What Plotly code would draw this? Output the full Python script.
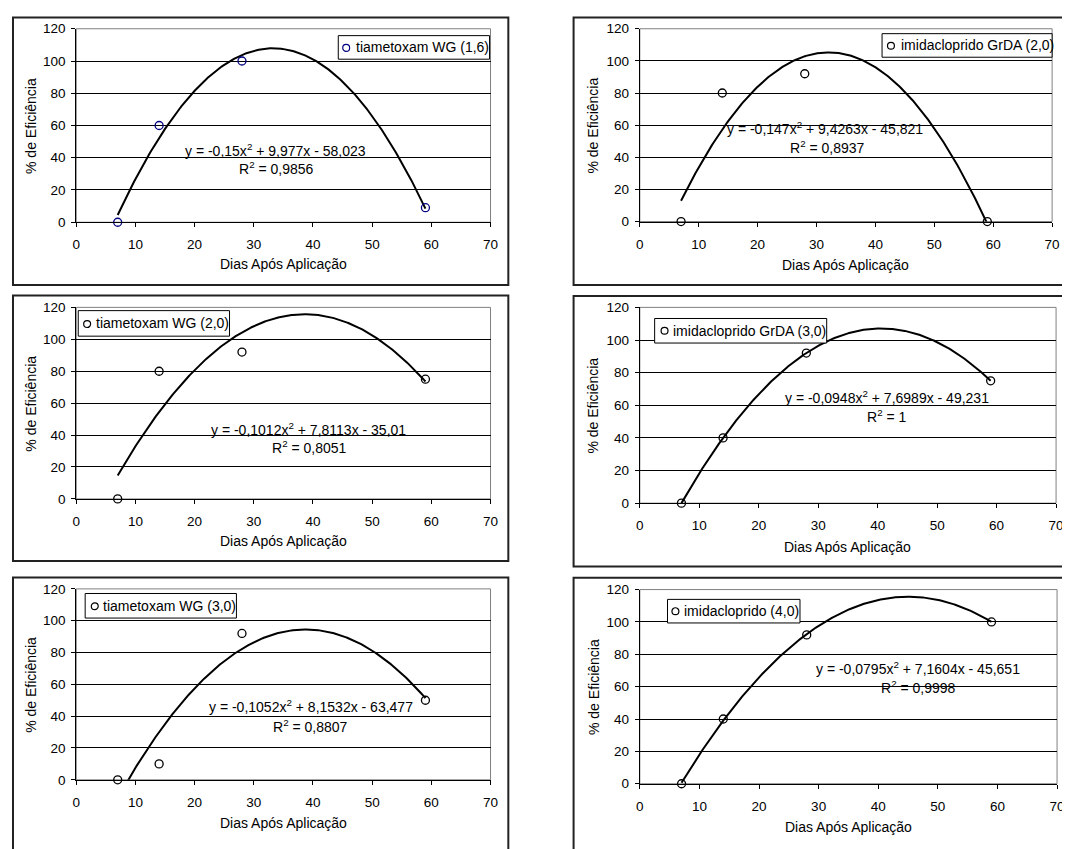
import numpy as np
import plotly.graph_objects as go

# The page body keeps its default 8px margin, so the figure is drawn 8px
# right/down of the window corner; the figure is sized to fill the rest.
PAGE_W, PAGE_H = 1070, 849
OFF = 8
W, H = PAGE_W - OFF, PAGE_H - OFF
FONT = "Liberation Sans, Arial, sans-serif"

# ---------------- data ----------------
days = [7, 14, 28, 59]
tiametoxam_wg_16 = [0, 60, 100, 9]
imidacloprido_grda_20 = [0, 80, 92, 0]
tiametoxam_wg_20 = [0, 80, 92, 75]
imidacloprido_grda_30 = [0, 40, 92, 75]
tiametoxam_wg_30 = [0, 10, 92, 50]
imidacloprido_40 = [0, 40, 92, 100]

series_names = ["tiametoxam WG (1,6)", "imidacloprido GrDA (2,0)",
                "tiametoxam WG (2,0)", "imidacloprido GrDA (3,0)",
                "tiametoxam WG (3,0)", "imidacloprido (4,0)"]
series_values = [tiametoxam_wg_16, imidacloprido_grda_20, tiametoxam_wg_20,
                 imidacloprido_grda_30, tiametoxam_wg_30, imidacloprido_40]

# polynomial trendline coefficients printed on the chart: y = a x^2 + b x + c
trend_a = [-0.15, -0.147, -0.1012, -0.0948, -0.1052, -0.0795]
trend_b = [9.977, 9.4263, 7.8113, 7.6989, 8.1532, 7.1604]
trend_c = [-58.023, -45.821, -35.01, -49.231, -63.477, -45.651]
equation_labels = ["y = -0,15x<sup>2</sup> + 9,977x - 58,023",
                   "y = -0,147x<sup>2</sup> + 9,4263x - 45,821",
                   "y = -0,1012x<sup>2</sup> + 7,8113x - 35,01",
                   "y = -0,0948x<sup>2</sup> + 7,6989x - 49,231",
                   "y = -0,1052x<sup>2</sup> + 8,1532x - 63,477",
                   "y = -0,0795x<sup>2</sup> + 7,1604x - 45,651"]
r2_labels = ["R<sup>2</sup> = 0,9856", "R<sup>2</sup> = 0,8937",
             "R<sup>2</sup> = 0,8051", "R<sup>2</sup> = 1",
             "R<sup>2</sup> = 0,8807", "R<sup>2</sup> = 0,9998"]

x_ticks = [0, 10, 20, 30, 40, 50, 60, 70]
y_ticks = [0, 20, 40, 60, 80, 100, 120]
x_title = "Dias Após Aplicação"
y_title = "% de Eficiência"

# ---------------- layout geometry (page pixels) ----------------
plot_px = [(73, 492, 22, 219), (643, 1060, 22, 218.3),
           (73, 492, 305.7, 500.7), (643, 1064, 305.7, 505),
           (73, 492, 592.3, 786.7), (643, 1065, 593, 790.7)]
frame_px = [(9, 510, 10.5, 283), (576, 1080, 10.5, 283),
            (9, 510, 293.5, 564), (576, 1080, 294, 569.5),
            (9, 510, 580.7, 860), (576, 1080, 581, 860)]
legend_px = [(338, 491, 29, 53), (888, 1060, 27, 51),
             (75, 228, 309, 335), (658, 832, 317, 342),
             (82, 235, 597, 622), (671, 805, 603, 627)]
legend_marker_px = [(346, 41.5), (897, 39.3), (84, 322.7),
                    (668, 329.5), (91.7, 610), (679, 615)]
legend_text_px = [354, 905, 91, 675, 98.5, 685.5]
eq_pos = [(33.7, 45.1), (31.4, 58.4), (39.3, 43.5), (41.6, 65), (39.6, 46.1), (46.6, 71.4)]
r2_pos = [(33.9, 33.5), (31.8, 46.2), (39.4, 32.4), (41.6, 53.6), (39.6, 33.8), (46.8, 59.9)]
ytitle_x_px = [27.7, 596, 27.7, 596, 27.7, 596]
xtitle_y_px = [262, 262.3, 543.3, 549.3, 830.7, 835]
marker_colors = ["#000080", "black", "black", "black", "black", "black"]


def fx(px):
    return (px - OFF) / W


def fy(py):
    return 1 - (py - OFF) / H


fig = go.Figure()
shapes = []
annotations = []
txt_font = dict(family=FONT, size=14, color="black")

for i in range(6):
    n = i + 1
    xa = "x" if n == 1 else f"x{n}"
    ya = "y" if n == 1 else f"y{n}"
    l, r, t, b = plot_px[i]

    xs = np.linspace(days[0], days[-1], 300)
    ys = trend_a[i] * xs ** 2 + trend_b[i] * xs + trend_c[i]
    fig.add_trace(go.Scatter(x=xs, y=ys, mode="lines", xaxis=xa, yaxis=ya,
                             line=dict(color="black", width=2),
                             showlegend=False, hoverinfo="skip"))
    fig.add_trace(go.Scatter(x=days, y=series_values[i], mode="markers",
                             name=series_names[i], xaxis=xa, yaxis=ya,
                             marker=dict(symbol="circle-open", size=8,
                                         color=marker_colors[i],
                                         line=dict(width=1.3, color=marker_colors[i])),
                             cliponaxis=False, showlegend=False))

    axis_common = dict(ticks="outside", ticklen=4, tickcolor="black", tickwidth=1,
                       showline=True, linecolor="black", linewidth=1,
                       zeroline=False, tickfont=dict(family=FONT, size=13.5, color="black"))
    fig.update_layout(**{
        ("xaxis" if n == 1 else f"xaxis{n}"): dict(
            domain=[fx(l), fx(r)], anchor=ya, range=[0, 70],
            tickmode="array", tickvals=x_ticks, showgrid=False,
            ticklabelstandoff=6, **axis_common),
        ("yaxis" if n == 1 else f"yaxis{n}"): dict(
            domain=[fy(b), fy(t)], anchor=xa, range=[0, 120],
            tickmode="array", tickvals=y_ticks, showgrid=True,
            gridcolor="black", gridwidth=1, ticklabelstandoff=3, **axis_common),
    })

    shapes.append(dict(type="rect", xref="paper", yref="paper", layer="below",
                       x0=fx(l), x1=fx(r), y0=fy(b), y1=fy(t),
                       line=dict(color="#808080", width=1), fillcolor="rgba(0,0,0,0)"))
    fl, fr, ft, fb = frame_px[i]
    shapes.append(dict(type="rect", xref="paper", yref="paper", layer="above",
                       x0=fx(fl), x1=fx(fr), y0=fy(fb), y1=fy(ft),
                       line=dict(color="#222222", width=2), fillcolor="rgba(0,0,0,0)"))
    ll, lr, lt, lb = legend_px[i]
    shapes.append(dict(type="rect", xref="paper", yref="paper", layer="above",
                       x0=fx(ll), x1=fx(lr), y0=fy(lb), y1=fy(lt),
                       line=dict(color="black", width=1), fillcolor="white"))
    mx, my = legend_marker_px[i]
    shapes.append(dict(type="circle", xref="paper", yref="paper", layer="above",
                       x0=fx(mx - 3.5), x1=fx(mx + 3.5), y0=fy(my + 3.5), y1=fy(my - 3.5),
                       line=dict(color=marker_colors[i], width=1.2), fillcolor="white"))
    annotations.append(dict(xref="paper", yref="paper", x=fx(legend_text_px[i]),
                            y=fy((lt + lb) / 2), xanchor="left", yanchor="middle",
                            text=series_names[i], showarrow=False, font=txt_font))

    annotations.append(dict(xref=xa, yref=ya, x=eq_pos[i][0], y=eq_pos[i][1],
                            text=equation_labels[i], showarrow=False,
                            xanchor="center", yanchor="middle", font=txt_font))
    annotations.append(dict(xref=xa, yref=ya, x=r2_pos[i][0], y=r2_pos[i][1],
                            text=r2_labels[i], showarrow=False,
                            xanchor="center", yanchor="middle", font=txt_font))

    annotations.append(dict(xref="paper", yref="paper", x=fx((l + r) / 2),
                            y=fy(xtitle_y_px[i]), xanchor="center", yanchor="middle",
                            text=x_title, showarrow=False, font=txt_font))
    annotations.append(dict(xref="paper", yref="paper", x=fx(ytitle_x_px[i]),
                            y=fy((t + b) / 2), xanchor="center", yanchor="middle",
                            text=y_title, textangle=-90, showarrow=False, font=txt_font))

fig.update_layout(width=W, height=H, margin=dict(l=0, r=0, t=0, b=0),
                  paper_bgcolor="white", plot_bgcolor="rgba(0,0,0,0)",
                  showlegend=False, shapes=shapes, annotations=annotations,
                  font=dict(family=FONT, color="black"))

fig.write_html("out.html")
